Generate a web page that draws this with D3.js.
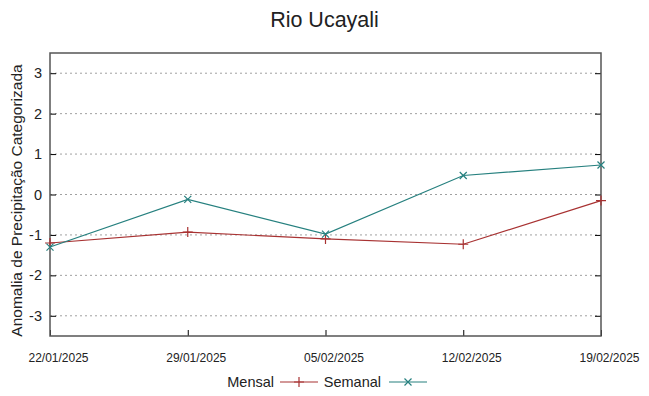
<!DOCTYPE html>
<html>
<head>
<meta charset="utf-8">
<script src="https://cdn.jsdelivr.net/npm/d3@7"></script>
<style>
  body { margin: 0; background: #fff; }
  text { font-family: "Liberation Sans", Arial, sans-serif; fill: #222; }
</style>
</head>
<body>
<div id="chart"></div>
<script>
const dates = ["22/01/2025", "29/01/2025", "05/02/2025", "12/02/2025", "19/02/2025"]
const mensal = [-1.2, -0.93, -1.1, -1.23, -0.15]
const semanal = [-1.3, -0.12, -0.98, 0.47, 0.73]
const yTicks = [-3, -2, -1, 0, 1, 2, 3]

const W = 649, H = 396
const margin = {top: 53, right: 48, bottom: 60, left: 50}
const width = W - margin.left - margin.right
const height = H - margin.top - margin.bottom

const parseDate = d3.timeParse("%d/%m/%Y")
const x = d3.scaleTime().domain(d3.extent(dates, parseDate)).range([0, width])
const y = d3.scaleLinear().domain([-3.5, 3.5]).range([height, 0])

const svg = d3.select("#chart").append("svg")
  .attr("width", W).attr("height", H)

const g = svg.append("g")
  .attr("transform", "translate(" + margin.left + "," + margin.top + ")")

// dotted grid
g.selectAll("line.grid").data(yTicks).enter().append("line")
  .attr("x1", 0).attr("x2", width)
  .attr("y1", d => y(d)).attr("y2", d => y(d))
  .attr("stroke", "#a0a0a0").attr("stroke-width", 1)
  .attr("stroke-dasharray", "2,3")

// y axis (ticks inside, mirrored)
const yAxis = d3.axisLeft(y).tickValues(yTicks).tickSize(-6).tickPadding(8).tickFormat(d => String(d))
g.append("g").call(yAxis)
  .call(s => s.select(".domain").remove())
  .call(s => s.selectAll("text").attr("font-size", 14.5).attr("fill", "#222"))
g.append("g").attr("transform", "translate(" + width + ",0)")
  .call(d3.axisRight(y).tickValues(yTicks).tickSize(-6).tickFormat(""))
  .call(s => s.select(".domain").remove())

// x axis
const xAxis = d3.axisBottom(x).tickValues(dates.map(parseDate)).tickSize(-6).tickPadding(17)
  .tickFormat(d3.timeFormat("%d/%m/%Y"))
g.append("g").attr("transform", "translate(0," + height + ")").call(xAxis)
  .call(s => s.select(".domain").remove())
  .call(s => s.selectAll("text").attr("font-size", 12).attr("fill", "#222").attr("dx", 8))

// frame
g.append("rect").attr("width", width).attr("height", height)
  .attr("fill", "none").attr("stroke", "#555").attr("stroke-width", 1.5)

const series = [
  {name: "Mensal", values: mensal, color: "#a83232", mark: "plus"},
  {name: "Semanal", values: semanal, color: "#26807f", mark: "cross"}
]

const line = d3.line()
  .x((d, i) => x(parseDate(dates[i])))
  .y(d => y(d))

const marker = (sel, type, s) => {
  if (type === "plus") {
    sel.append("path").attr("d", `M${-s},0H${s}M0,${-s}V${s}`)
  } else {
    sel.append("path").attr("d", `M${-s},${-s}L${s},${s}M${-s},${s}L${s},${-s}`)
  }
}

series.forEach(sr => {
  g.append("path").datum(sr.values)
    .attr("d", line)
    .attr("fill", "none").attr("stroke", sr.color).attr("stroke-width", 1.2)
  sr.values.forEach((v, i) => {
    const m = g.append("g")
      .attr("transform", `translate(${x(parseDate(dates[i]))},${y(v)})`)
      .attr("stroke", sr.color).attr("stroke-width", 1.2).attr("fill", "none")
    marker(m, sr.mark, sr.mark === "plus" ? 5 : 3.5)
  })
})

// title
svg.append("text").attr("x", W / 2).attr("y", 27)
  .attr("text-anchor", "middle").attr("font-size", 21.5).text("Rio Ucayali")

// y label
svg.append("text")
  .attr("transform", `translate(22,${margin.top + height / 2 + 6}) rotate(-90)`)
  .attr("text-anchor", "middle").attr("font-size", 15.5)
  .text("Anomalia de Precipitação Categorizada")

// legend
const legend = [
  {x: 274, lx: 280},
  {x: 381, lx: 389}
]
series.forEach((sr, i) => {
  const ly = 382
  svg.append("text").attr("x", legend[i].x).attr("y", ly + 5)
    .attr("text-anchor", "end").attr("font-size", 14.5).text(sr.name)
  svg.append("line").attr("x1", legend[i].lx).attr("x2", legend[i].lx + 38)
    .attr("y1", ly).attr("y2", ly)
    .attr("stroke", sr.color).attr("stroke-width", 1.2)
  const m = svg.append("g").attr("transform", `translate(${legend[i].lx + 19},${ly})`)
    .attr("stroke", sr.color).attr("stroke-width", 1.2).attr("fill", "none")
  marker(m, sr.mark, sr.mark === "plus" ? 5 : 3.5)
})
</script>
</body>
</html>
